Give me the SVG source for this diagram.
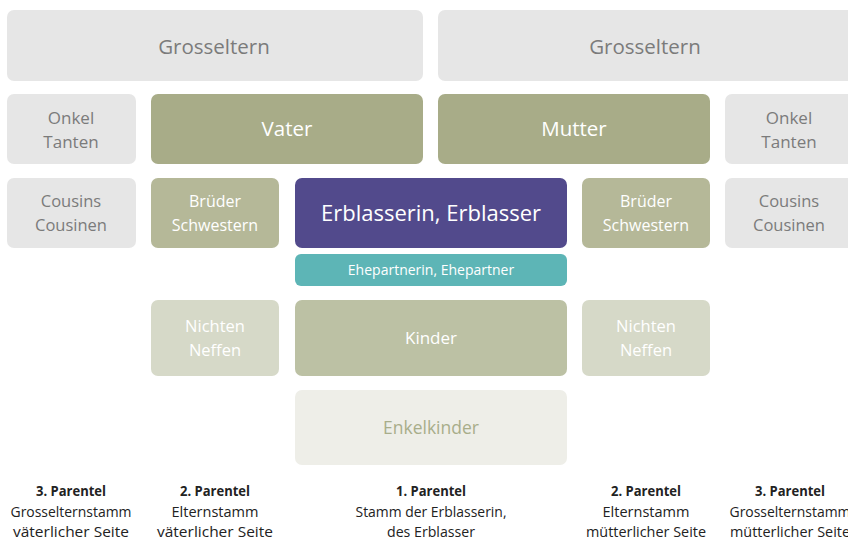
<svg xmlns="http://www.w3.org/2000/svg" width="848" height="541" viewBox="0 0 848 541">
<style>
text{font-family:"Open Sans","Noto Sans","Liberation Sans",sans-serif;text-anchor:middle}
.g rect{fill:#e6e6e6}.g text{fill:#7b7b7b}
.p rect{fill:#a8ac88}.p text{fill:#fff}
.b rect{fill:#b5b898}.b text{fill:#fff}
.e rect{fill:#524a8c}.e text{fill:#fff}
.h rect{fill:#5db5b6}.h text{fill:#fff}
.k rect{fill:#bcc1a4}.k text{fill:#fff}
.n rect{fill:#d6d9c8}.n text{fill:#fff}
.ek rect{fill:#eeeee8}.ek text{fill:#a8ad8a}
.lbl text{fill:#222;font-size:14px}
.lbl .t{font-weight:bold}
</style>
<g id="grosseltern-v" class="g"><rect x="7" y="10" width="416" height="71" rx="7"/><text x="214" y="54" font-size="20.5">Grosseltern</text></g>
<g id="grosseltern-m" class="g"><rect x="438" y="10" width="420" height="71" rx="7"/><text x="645" y="54" font-size="20.5">Grosseltern</text></g>
<g id="onkel-v" class="g"><rect x="7" y="94" width="129" height="70" rx="7"/><text x="71" y="124" font-size="17">Onkel</text><text x="71" y="148" font-size="17">Tanten</text></g>
<g id="vater" class="p"><rect x="151" y="94" width="272" height="70" rx="7"/><text x="287" y="136" font-size="20.5">Vater</text></g>
<g id="mutter" class="p"><rect x="438" y="94" width="272" height="70" rx="7"/><text x="574" y="136" font-size="20.5">Mutter</text></g>
<g id="onkel-m" class="g"><rect x="725" y="94" width="133" height="70" rx="7"/><text x="789" y="124" font-size="17">Onkel</text><text x="789" y="148" font-size="17">Tanten</text></g>
<g id="cousins-v" class="g"><rect x="7" y="178" width="129" height="70" rx="7"/><text x="71" y="207" font-size="16.5">Cousins</text><text x="71" y="231" font-size="16.5">Cousinen</text></g>
<g id="brueder-v" class="b"><rect x="151" y="178" width="128" height="70" rx="7"/><text x="215" y="207" font-size="16">Brüder</text><text x="215" y="231" font-size="16">Schwestern</text></g>
<g id="erblasser" class="e"><rect x="295" y="178" width="272" height="70" rx="7"/><text x="431" y="221" font-size="22">Erblasserin, Erblasser</text></g>
<g id="brueder-m" class="b"><rect x="582" y="178" width="128" height="70" rx="7"/><text x="646" y="207" font-size="16">Brüder</text><text x="646" y="231" font-size="16">Schwestern</text></g>
<g id="cousins-m" class="g"><rect x="725" y="178" width="133" height="70" rx="7"/><text x="789" y="207" font-size="16.5">Cousins</text><text x="789" y="231" font-size="16.5">Cousinen</text></g>
<g id="ehepartner" class="h"><rect x="295" y="254" width="272" height="32" rx="6"/><text x="431" y="275" font-size="14">Ehepartnerin, Ehepartner</text></g>
<g id="nichten-v" class="n"><rect x="151" y="300" width="128" height="76" rx="7"/><text x="215" y="332" font-size="16.5">Nichten</text><text x="215" y="356" font-size="16.5">Neffen</text></g>
<g id="kinder" class="k"><rect x="295" y="300" width="272" height="76" rx="7"/><text x="431" y="344" font-size="17">Kinder</text></g>
<g id="nichten-m" class="n"><rect x="582" y="300" width="128" height="76" rx="7"/><text x="646" y="332" font-size="16.5">Nichten</text><text x="646" y="356" font-size="16.5">Neffen</text></g>
<g id="enkelkinder" class="ek"><rect x="295" y="390" width="272" height="75" rx="7"/><text x="431" y="434" font-size="17.5">Enkelkinder</text></g>
<g id="connectors"></g>
<g id="labels" class="lbl">
<text class="t" x="71" y="496" textLength="70" lengthAdjust="spacingAndGlyphs">3. Parentel</text>
<text x="71" y="517" textLength="121" lengthAdjust="spacingAndGlyphs">Grosselternstamm</text>
<text x="71" y="537" textLength="116" lengthAdjust="spacingAndGlyphs">väterlicher Seite</text>
<text class="t" x="215" y="496" textLength="70" lengthAdjust="spacingAndGlyphs">2. Parentel</text>
<text x="215" y="517" textLength="87" lengthAdjust="spacingAndGlyphs">Elternstamm</text>
<text x="215" y="537" textLength="116" lengthAdjust="spacingAndGlyphs">väterlicher Seite</text>
<text class="t" x="431" y="496" textLength="70" lengthAdjust="spacingAndGlyphs">1. Parentel</text>
<text x="431" y="517" textLength="151" lengthAdjust="spacingAndGlyphs">Stamm der Erblasserin,</text>
<text x="431" y="537" textLength="88" lengthAdjust="spacingAndGlyphs">des Erblasser</text>
<text class="t" x="646" y="496" textLength="70" lengthAdjust="spacingAndGlyphs">2. Parentel</text>
<text x="646" y="517" textLength="87" lengthAdjust="spacingAndGlyphs">Elternstamm</text>
<text x="646" y="537" textLength="120" lengthAdjust="spacingAndGlyphs">mütterlicher Seite</text>
<text class="t" x="790" y="496" textLength="70" lengthAdjust="spacingAndGlyphs">3. Parentel</text>
<text x="790" y="517" textLength="121" lengthAdjust="spacingAndGlyphs">Grosselternstamm</text>
<text x="790" y="537" textLength="120" lengthAdjust="spacingAndGlyphs">mütterlicher Seite</text>
</g>
</svg>
